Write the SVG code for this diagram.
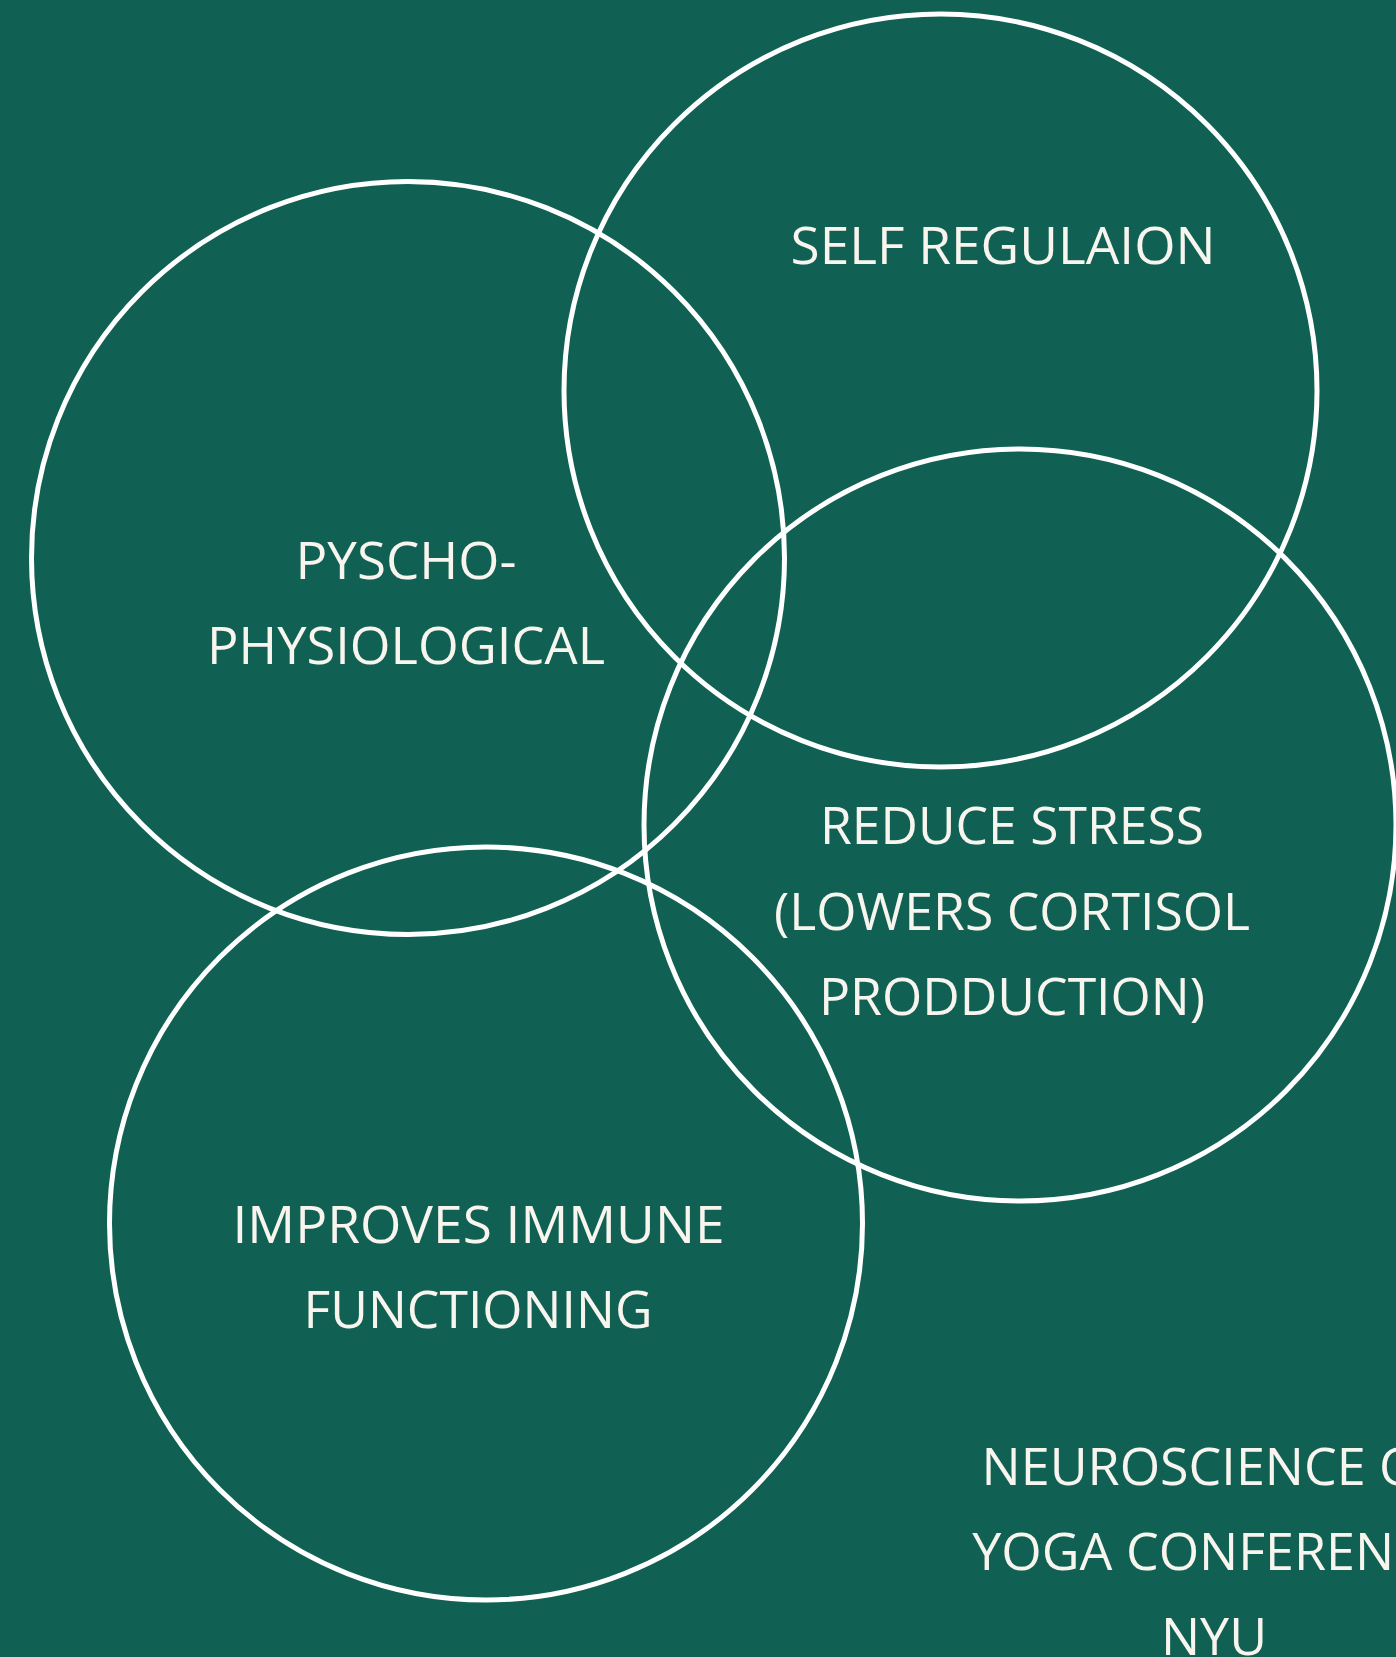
<svg xmlns="http://www.w3.org/2000/svg" width="1396" height="1657" viewBox="0 0 1396 1657">
  <style>
    .ring { fill: none; stroke: #ffffff; stroke-width: 5; }
    .label { font-family: "Open Sans", "Noto Sans", "Liberation Sans", sans-serif; font-size: 52px; fill: #f8f4ee; text-anchor: middle; }
  </style>
  <rect x="0" y="0" width="1396" height="1657" fill="#106153"/>

  <g id="psycho-physiological">
    <circle class="ring" cx="408" cy="558" r="376.5"/>
    <text class="label" x="406" y="579" textLength="221" lengthAdjust="spacingAndGlyphs">PYSCHO-</text>
    <text class="label" x="406" y="664" textLength="398" lengthAdjust="spacingAndGlyphs">PHYSIOLOGICAL</text>
  </g>

  <g id="self-regulation">
    <circle class="ring" cx="940.5" cy="390.5" r="376.5"/>
    <text class="label" x="1003" y="264" textLength="425" lengthAdjust="spacingAndGlyphs">SELF REGULAION</text>
  </g>

  <g id="reduce-stress">
    <circle class="ring" cx="1020" cy="825" r="376"/>
    <text class="label" x="1012" y="844" textLength="384" lengthAdjust="spacingAndGlyphs">REDUCE STRESS</text>
    <text class="label" x="1012" y="930" textLength="476" lengthAdjust="spacingAndGlyphs">(LOWERS CORTISOL</text>
    <text class="label" x="1012" y="1015" textLength="386" lengthAdjust="spacingAndGlyphs">PRODDUCTION)</text>
  </g>

  <g id="immune-functioning">
    <circle class="ring" cx="486" cy="1223.5" r="376.5"/>
    <text class="label" x="478.5" y="1243" textLength="492" lengthAdjust="spacingAndGlyphs">IMPROVES IMMUNE</text>
    <text class="label" x="478" y="1328" textLength="349" lengthAdjust="spacingAndGlyphs">FUNCTIONING</text>
  </g>

  <g id="conference-caption">
    <text class="label" x="1214" y="1485">NEUROSCIENCE OF</text>
    <text class="label" x="1214" y="1570">YOGA CONFERENCE</text>
    <text class="label" x="1214" y="1655">NYU</text>
  </g>
</svg>
